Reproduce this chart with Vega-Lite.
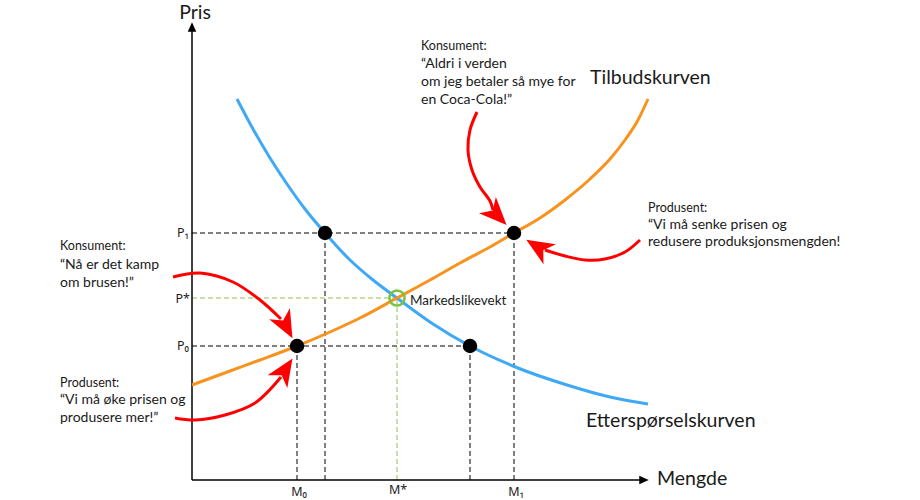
{
  "$schema": "https://vega.github.io/schema/vega-lite/v6.json",
  "width": 920,
  "height": 500,
  "autosize": {"type": "fit", "contains": "padding"},
  "padding": 0,
  "background": "white",
  "config": {"view": {"stroke": null}, "font": "Lato"},
  "datasets": {
    "guides": [
      {"kind": "black", "q": 0, "p": 247, "q2": 322, "p2": 247},
      {"kind": "black", "q": 0, "p": 134, "q2": 278, "p2": 134},
      {"kind": "black", "q": 133, "p": 0, "q2": 133, "p2": 247},
      {"kind": "black", "q": 322, "p": 0, "q2": 322, "p2": 247},
      {"kind": "black", "q": 105, "p": 0, "q2": 105, "p2": 134},
      {"kind": "black", "q": 278, "p": 0, "q2": 278, "p2": 134},
      {"kind": "green", "q": 0, "p": 182, "q2": 205, "p2": 182},
      {"kind": "green", "q": 205, "p": 0, "q2": 205, "p2": 182}
    ],
    "axes": [
      {"q": 0, "p": 0, "q2": 0, "p2": 452},
      {"q": 0, "p": 0, "q2": 450, "p2": 0}
    ],
    "axisheads": [
      {"q": 0, "p": 453, "dir": 0},
      {"q": 452, "p": 0, "dir": 90}
    ],
    "curves": [
      {"series": "Etterspørsel", "i": 0, "q": 45, "p": 381},
      {"series": "Etterspørsel", "i": 1, "q": 61, "p": 351},
      {"series": "Etterspørsel", "i": 2, "q": 78, "p": 322},
      {"series": "Etterspørsel", "i": 3, "q": 95, "p": 296},
      {"series": "Etterspørsel", "i": 4, "q": 113, "p": 271},
      {"series": "Etterspørsel", "i": 5, "q": 133, "p": 247},
      {"series": "Etterspørsel", "i": 6, "q": 158, "p": 220},
      {"series": "Etterspørsel", "i": 7, "q": 181, "p": 200},
      {"series": "Etterspørsel", "i": 8, "q": 205, "p": 182},
      {"series": "Etterspørsel", "i": 9, "q": 241, "p": 156},
      {"series": "Etterspørsel", "i": 10, "q": 278, "p": 134},
      {"series": "Etterspørsel", "i": 11, "q": 321, "p": 114},
      {"series": "Etterspørsel", "i": 12, "q": 375, "p": 95},
      {"series": "Etterspørsel", "i": 13, "q": 418, "p": 83},
      {"series": "Etterspørsel", "i": 14, "q": 456, "p": 76},
      {"series": "Tilbud", "i": 0, "q": 0, "p": 95},
      {"series": "Tilbud", "i": 1, "q": 38, "p": 109},
      {"series": "Tilbud", "i": 2, "q": 68, "p": 120},
      {"series": "Tilbud", "i": 3, "q": 105, "p": 134},
      {"series": "Tilbud", "i": 4, "q": 138, "p": 148},
      {"series": "Tilbud", "i": 5, "q": 168, "p": 162},
      {"series": "Tilbud", "i": 6, "q": 205, "p": 182},
      {"series": "Tilbud", "i": 7, "q": 238, "p": 200},
      {"series": "Tilbud", "i": 8, "q": 268, "p": 217},
      {"series": "Tilbud", "i": 9, "q": 298, "p": 233},
      {"series": "Tilbud", "i": 10, "q": 322, "p": 247},
      {"series": "Tilbud", "i": 11, "q": 348, "p": 262},
      {"series": "Tilbud", "i": 12, "q": 373, "p": 280},
      {"series": "Tilbud", "i": 13, "q": 398, "p": 301},
      {"series": "Tilbud", "i": 14, "q": 418, "p": 321},
      {"series": "Tilbud", "i": 15, "q": 433, "p": 340},
      {"series": "Tilbud", "i": 16, "q": 446, "p": 360},
      {"series": "Tilbud", "i": 17, "q": 456, "p": 381}
    ],
    "arrows": [
      {"arrow": "a1", "i": 0, "q": 285, "p": 368},
      {"arrow": "a1", "i": 1, "q": 278, "p": 350},
      {"arrow": "a1", "i": 2, "q": 276, "p": 330},
      {"arrow": "a1", "i": 3, "q": 280, "p": 310},
      {"arrow": "a1", "i": 4, "q": 288, "p": 293},
      {"arrow": "a1", "i": 5, "q": 298, "p": 279},
      {"arrow": "a1", "i": 6, "q": 301, "p": 270},
      {"arrow": "a2", "i": 0, "q": 448, "p": 240},
      {"arrow": "a2", "i": 1, "q": 433, "p": 228},
      {"arrow": "a2", "i": 2, "q": 413, "p": 221},
      {"arrow": "a2", "i": 3, "q": 393, "p": 220},
      {"arrow": "a2", "i": 4, "q": 373, "p": 224},
      {"arrow": "a2", "i": 5, "q": 353, "p": 230},
      {"arrow": "a3", "i": 0, "q": -19, "p": 203},
      {"arrow": "a3", "i": 1, "q": 8, "p": 207},
      {"arrow": "a3", "i": 2, "q": 41, "p": 198},
      {"arrow": "a3", "i": 3, "q": 68, "p": 180},
      {"arrow": "a3", "i": 4, "q": 89, "p": 161},
      {"arrow": "a4", "i": 0, "q": -17, "p": 62},
      {"arrow": "a4", "i": 1, "q": 3, "p": 60},
      {"arrow": "a4", "i": 2, "q": 33, "p": 65},
      {"arrow": "a4", "i": 3, "q": 63, "p": 77},
      {"arrow": "a4", "i": 4, "q": 89, "p": 103}
    ],
    "arrowheads": [
      {"arrow": "a1", "q": 305, "p": 265, "dir": 136},
      {"arrow": "a2", "q": 346, "p": 233, "dir": 302},
      {"arrow": "a3", "q": 94, "p": 154, "dir": 152},
      {"arrow": "a4", "q": 93, "p": 110, "dir": 33}
    ],
    "dots": [
      {"q": 133, "p": 247},
      {"q": 322, "p": 247},
      {"q": 105, "p": 134},
      {"q": 278, "p": 134}
    ],
    "equilibrium": [{"q": 205, "p": 182}],
    "texts": [
      {"kind": "note", "q": 229, "p": 434, "t": "Konsument:"},
      {"kind": "quote", "q": 229, "p": 416, "t": "“Aldri i verden"},
      {"kind": "quote", "q": 229, "p": 398, "t": "om jeg betaler så mye for"},
      {"kind": "quote", "q": 229, "p": 380, "t": "en Coca-Cola!”"},
      {"kind": "big", "q": 398, "p": 402, "t": "Tilbudskurven"},
      {"kind": "note", "q": 456, "p": 272, "t": "Produsent:"},
      {"kind": "quote", "q": 456, "p": 255, "t": "“Vi må senke prisen og"},
      {"kind": "quote", "q": 456, "p": 238, "t": "redusere produksjonsmengden!"},
      {"kind": "note", "q": -132, "p": 234, "t": "Konsument:"},
      {"kind": "quote", "q": -132, "p": 215, "t": "“Nå er det kamp"},
      {"kind": "quote", "q": -132, "p": 197, "t": "om brusen!”"},
      {"kind": "note", "q": -132, "p": 97, "t": "Produsent:"},
      {"kind": "quote", "q": -132, "p": 80, "t": "“Vi må øke prisen og"},
      {"kind": "quote", "q": -132, "p": 62, "t": "produsere mer!”"},
      {"kind": "eq", "q": 218, "p": 179, "t": "Markedslikevekt"},
      {"kind": "big", "q": 394, "p": 59, "t": "Etterspørselskurven"},
      {"kind": "big", "q": 465, "p": 1, "t": "Mengde"},
      {"kind": "title", "q": 3, "p": 467, "t": "Pris"},
      {"kind": "ptick", "q": -3, "p": 247, "t": "P₁"},
      {"kind": "ptick", "q": -2, "p": 181, "t": "P*"},
      {"kind": "ptick", "q": -3, "p": 134, "t": "P₀"},
      {"kind": "mtick", "q": 107, "p": -12, "t": "M₀"},
      {"kind": "mtick", "q": 206, "p": -10, "t": "M*"},
      {"kind": "mtick", "q": 324, "p": -12, "t": "M₁"}
    ]
  },
  "encoding": {
    "x": {"field": "q", "type": "quantitative", "scale": {"domain": [-192, 728], "nice": false, "zero": false}, "axis": null},
    "y": {"field": "p", "type": "quantitative", "scale": {"domain": [-20, 480], "nice": false, "zero": false}, "axis": null}
  },
  "layer": [
    {
      "data": {"name": "guides"},
      "transform": [{"filter": "datum.kind === 'black'"}],
      "mark": {"type": "rule", "color": "#000000", "strokeWidth": 1, "strokeDash": [5, 3]},
      "encoding": {"x2": {"field": "q2"}, "y2": {"field": "p2"}}
    },
    {
      "data": {"name": "guides"},
      "transform": [{"filter": "datum.kind === 'green'"}],
      "mark": {"type": "rule", "color": "#8cc152", "strokeWidth": 1, "strokeDash": [5, 3]},
      "encoding": {"x2": {"field": "q2"}, "y2": {"field": "p2"}}
    },
    {
      "data": {"name": "axes"},
      "mark": {"type": "rule", "color": "#000000", "strokeWidth": 1.5},
      "encoding": {"x2": {"field": "q2"}, "y2": {"field": "p2"}}
    },
    {
      "data": {"name": "axisheads"},
      "mark": {"type": "point", "shape": "M0,-1L0.9,1L-0.9,1Z", "filled": true, "color": "#000000", "size": 90, "opacity": 1},
      "encoding": {"angle": {"field": "dir", "type": "quantitative", "scale": null}}
    },
    {
      "data": {"name": "curves"},
      "mark": {"type": "line", "strokeWidth": 3, "interpolate": "monotone"},
      "encoding": {
        "color": {"field": "series", "type": "nominal", "scale": {"domain": ["Etterspørsel", "Tilbud"], "range": ["#3fa9f5", "#f7931e"]}, "legend": null},
        "order": {"field": "i", "type": "quantitative"}
      }
    },
    {
      "data": {"name": "arrows"},
      "mark": {"type": "line", "strokeWidth": 3, "color": "#ff0000", "interpolate": "catmull-rom"},
      "encoding": {
        "detail": {"field": "arrow", "type": "nominal"},
        "order": {"field": "i", "type": "quantitative"}
      }
    },
    {
      "data": {"name": "arrowheads"},
      "mark": {"type": "point", "shape": "M0,-1L0.85,1L0,0.45L-0.85,1Z", "filled": true, "color": "#ff0000", "size": 760, "opacity": 1},
      "encoding": {"angle": {"field": "dir", "type": "quantitative", "scale": null}}
    },
    {
      "data": {"name": "dots"},
      "mark": {"type": "point", "shape": "circle", "filled": true, "color": "#000000", "size": 210, "opacity": 1}
    },
    {
      "data": {"name": "equilibrium"},
      "mark": {"type": "point", "shape": "circle", "filled": false, "color": "#7ac143", "strokeWidth": 2.5, "size": 230, "opacity": 1}
    },
    {
      "data": {"name": "texts"},
      "transform": [{"filter": "datum.kind === 'note'"}],
      "mark": {"type": "text", "align": "left", "baseline": "middle", "fontSize": 12.5, "color": "#1a1a1a"},
      "encoding": {"text": {"field": "t"}}
    },
    {
      "data": {"name": "texts"},
      "transform": [{"filter": "datum.kind === 'eq'"}],
      "mark": {"type": "text", "align": "left", "baseline": "middle", "fontSize": 13.5, "color": "#1a1a1a"},
      "encoding": {"text": {"field": "t"}}
    },
    {
      "data": {"name": "texts"},
      "transform": [{"filter": "datum.kind === 'quote'"}],
      "mark": {"type": "text", "align": "left", "baseline": "middle", "fontSize": 14, "color": "#1a1a1a"},
      "encoding": {"text": {"field": "t"}}
    },
    {
      "data": {"name": "texts"},
      "transform": [{"filter": "datum.kind === 'big'"}],
      "mark": {"type": "text", "align": "left", "baseline": "middle", "fontSize": 19.5, "color": "#1a1a1a"},
      "encoding": {"text": {"field": "t"}}
    },
    {
      "data": {"name": "texts"},
      "transform": [{"filter": "datum.kind === 'title'"}],
      "mark": {"type": "text", "align": "center", "baseline": "middle", "fontSize": 19.5, "color": "#1a1a1a"},
      "encoding": {"text": {"field": "t"}}
    },
    {
      "data": {"name": "texts"},
      "transform": [{"filter": "datum.kind === 'ptick'"}],
      "mark": {"type": "text", "align": "right", "baseline": "middle", "fontSize": 12.5, "font": "Noto Sans", "color": "#1a1a1a"},
      "encoding": {"text": {"field": "t"}}
    },
    {
      "data": {"name": "texts"},
      "transform": [{"filter": "datum.kind === 'mtick'"}],
      "mark": {"type": "text", "align": "center", "baseline": "middle", "fontSize": 12.5, "font": "Noto Sans", "color": "#1a1a1a"},
      "encoding": {"text": {"field": "t"}}
    }
  ]
}
